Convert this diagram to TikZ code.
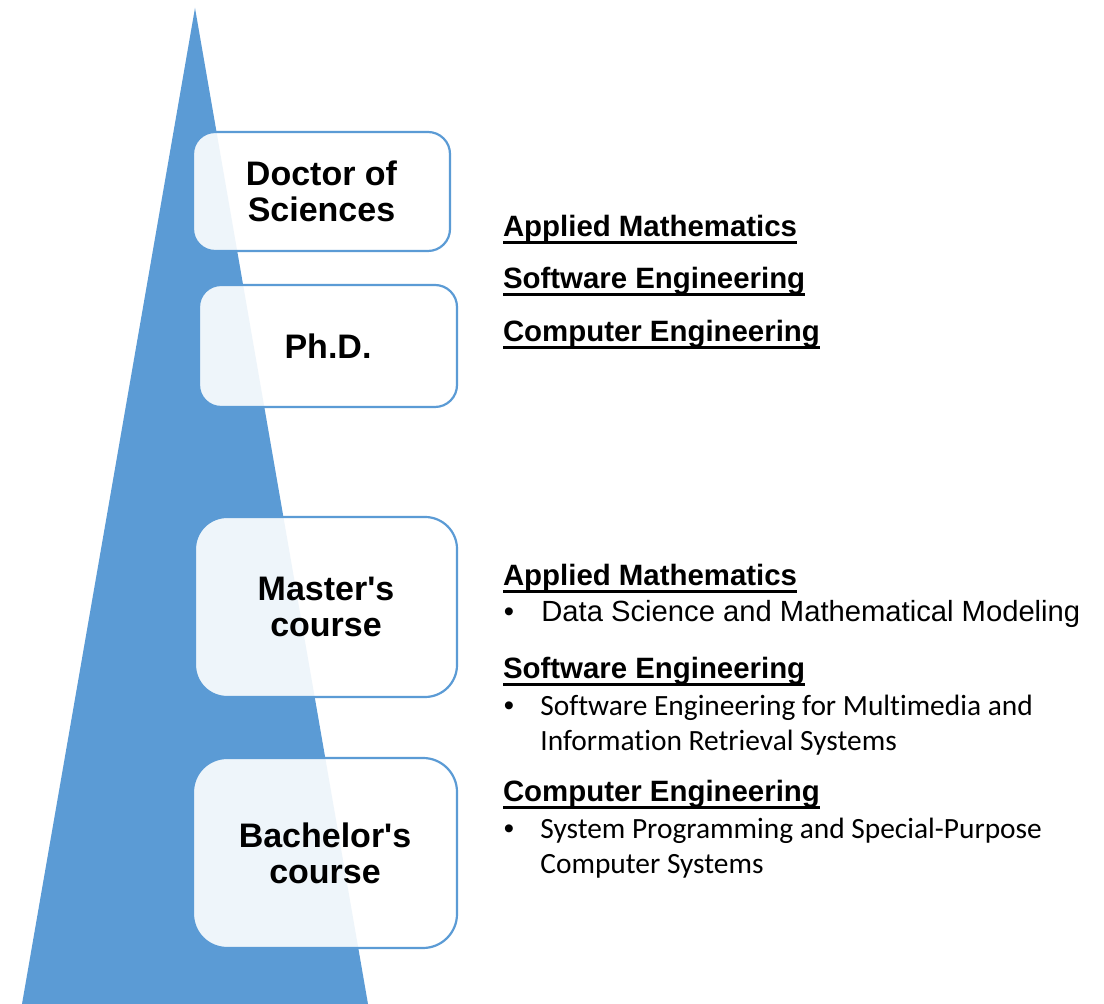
\documentclass[tikz,border=0pt]{standalone}
\usepackage{fontspec}
\setmainfont{Liberation Sans}
\newfontfamily\calibrifont[Ligatures={NoCommon}]{Carlito}
\definecolor{triblue}{HTML}{5B9BD5}
\begin{document}
\begin{tikzpicture}[x=0.5pt,y=-0.5pt,
  levelbox/.style={draw=triblue, line width=1.1pt, fill=white, fill opacity=0.9, text opacity=1,
    inner sep=0pt, outer sep=0pt, align=center, font=\bfseries\fontsize{17}{18}\selectfont},
  head/.style={anchor=base west, inner sep=0pt, outer sep=0pt, font=\bfseries\fontsize{14.7}{17}\selectfont},
  uline/.style={line width=1.5pt},
  bul/.style={anchor=base, inner sep=0pt, font=\fontsize{14.6}{17}\selectfont},
  arialtxt/.style={anchor=base west, inner sep=0pt, font=\fontsize{14.6}{17}\selectfont},
  calitxt/.style={anchor=base west, inner sep=0pt, align=left, font=\calibrifont\fontsize{14.7}{17.5}\selectfont}]
\fill[white] (0,0) rectangle (1104,1004);
\useasboundingbox (0,0) rectangle (1104,1004);
% pyramid
\fill[triblue] (195,8) -- (368,1004) -- (22,1004) -- cycle;
% level boxes
\node[levelbox, minimum width=128.5pt, minimum height=59.5pt, rounded corners=11pt] (doc) at (321.5,191.5) {Doctor of\\Sciences};
\node[levelbox, minimum width=129pt, minimum height=61pt, rounded corners=11pt] (phd) at (328,346) {Ph.D.};
\node[levelbox, minimum width=131pt, minimum height=90pt, rounded corners=16pt] (mas) at (326,607) {Master\textquotesingle s\\course};
\node[levelbox, minimum width=132pt, minimum height=95pt, rounded corners=17pt] (bac) at (325,853) {Bachelor\textquotesingle s\\course};
% upper headings
\node[head] (h1) at (503,237) {Applied Mathematics};
\node[head] (h2) at (503,289) {Software Engineering};
\node[head] (h3) at (503,342) {Computer Engineering};
% lower headings
\node[head] (h4) at (503,586) {Applied Mathematics};
\node[head] (h5) at (503,679) {Software Engineering};
\node[head] (h6) at (503,802) {Computer Engineering};
\foreach \h in {h1,h2,h3,h4,h5,h6}
  \draw[uline] ([yshift=-3pt]\h.base west) -- ([yshift=-3pt]\h.base east);
% bullet items
\node[bul] (b1) at (509,621.5) {•};
\node[arialtxt] (t1) at (541,621.5) {Data Science and Mathematical Modeling};
\node[bul] (b2) at (509,716) {•};
\node[calitxt] (t2) at (540,751) {Software Engineering for Multimedia and\\Information Retrieval Systems};
\node[bul] (b3) at (509,839) {•};
\node[calitxt] (t3) at (540,874) {System Programming and Special-Purpose\\Computer Systems};
\end{tikzpicture}
\end{document}
